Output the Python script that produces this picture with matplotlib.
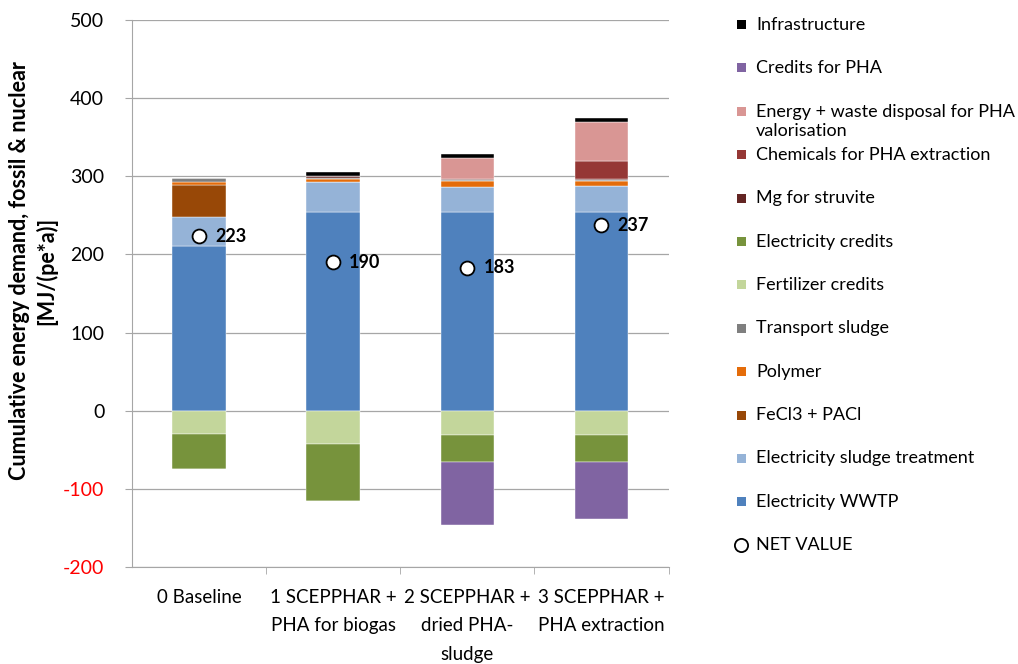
import matplotlib
matplotlib.use("Agg")
import matplotlib.pyplot as plt
import numpy as np
from matplotlib.patches import Rectangle
from matplotlib.lines import Line2D

plt.rcParams['font.family'] = ['Lato', 'DejaVu Sans']
plt.rcParams['axes.unicode_minus'] = False

scenarios = ["0 Baseline", "1 SCEPPHAR +\nPHA for biogas",
             "2 SCEPPHAR +\ndried PHA-\nsludge", "3 SCEPPHAR +\nPHA extraction"]

# positive contributions, stacked bottom to top
electricity_wwtp = [211, 254, 254, 254]
electricity_sludge = [37, 38, 32, 33]
fecl3_pacl = [41, 0, 0, 0]
polymer = [4, 5, 8, 7]
transport_sludge = [5, 1, 1, 1]
mg_struvite = [0, 2, 2, 1]
chemicals_pha = [0, 0, 0, 24]
energy_waste_pha = [0, 0, 26, 50]
infrastructure = [0, 6, 6, 5]

# credits, stacked downward from zero
fertilizer_credits = [-30, -43, -31, -31]
electricity_credits = [-45, -73, -35, -35]
credits_pha = [0, 0, -80, -72]

positive = [
    ("Electricity WWTP", electricity_wwtp, "#4F81BD"),
    ("Electricity sludge treatment", electricity_sludge, "#95B3D7"),
    ("FeCl3 + PACl", fecl3_pacl, "#984807"),
    ("Polymer", polymer, "#E46C0A"),
    ("Transport sludge", transport_sludge, "#7F7F7F"),
    ("Mg for struvite", mg_struvite, "#632523"),
    ("Chemicals for PHA extraction", chemicals_pha, "#953735"),
    ("Energy + waste disposal for PHA\nvalorisation", energy_waste_pha, "#D99694"),
    ("Infrastructure", infrastructure, "#000000"),
]
negative = [
    ("Fertilizer credits", fertilizer_credits, "#C3D69B"),
    ("Electricity credits", electricity_credits, "#77933C"),
    ("Credits for PHA", credits_pha, "#8064A2"),
]

W, H = 1018, 664
fig = plt.figure(figsize=(W / 100, H / 100), dpi=100)
ax = fig.add_axes([0.1297, 0.146, 0.527, 0.824])

x = np.arange(len(scenarios))
width = 0.40

bottom = np.zeros(len(scenarios))
for name, vals, color in positive:
    v = np.array(vals, dtype=float)
    ax.bar(x, v, width, bottom=bottom, color=color, edgecolor="white",
           linewidth=0.3, zorder=3)
    bottom += v
pos_total = bottom.copy()

bottom = np.zeros(len(scenarios))
for name, vals, color in negative:
    v = np.array(vals, dtype=float)
    ax.bar(x, v, width, bottom=bottom, color=color, edgecolor="white",
           linewidth=0.3, zorder=3)
    bottom += v
neg_total = bottom.copy()

net = pos_total + neg_total
ax.plot(x, net, linestyle="none", marker="o", markersize=10,
        markerfacecolor="white", markeredgecolor="black", markeredgewidth=1.3,
        zorder=5)
for xi, n in zip(x, net):
    ax.text(xi + 0.12, n, f"{n:.0f}", fontsize=13, fontweight="bold",
            va="center", ha="left", zorder=6)

ax.set_xlim(-0.5, 3.5)
ax.set_ylim(-200, 500)
ax.set_yticks(np.arange(-200, 501, 100))
ax.yaxis.grid(True, color="#A6A6A6", linewidth=0.9, zorder=0)
ax.set_axisbelow(True)

for s in ["top", "right"]:
    ax.spines[s].set_visible(False)
ax.spines["left"].set_color("#A6A6A6")
ax.spines["bottom"].set_color("#A6A6A6")

ax.set_xticks(x)
ax.set_xticklabels(scenarios, fontsize=13.5, linespacing=1.8)
ax.tick_params(axis="x", which="major", length=0, pad=16)
ax.set_xticks(np.arange(0.5, 4.0, 1.0), minor=True)
ax.tick_params(axis="x", which="minor", length=5, color="#A6A6A6")
ax.tick_params(axis="y", length=5, color="#A6A6A6", labelsize=14, pad=15)
for lab, val in zip(ax.get_yticklabels(), np.arange(-200, 501, 100)):
    if val < 0:
        lab.set_color("red")

ax.set_ylabel("Cumulative energy demand, fossil & nuclear\n[MJ/(pe*a)]",
              fontsize=15.5, fontweight="bold", linespacing=1.25)
ax.yaxis.label.set_va("center")
ax.yaxis.set_label_coords((33 - 132) / 536.5, 0.541)

# legend entries on a fixed row pitch, top to bottom
legend_order = ["Infrastructure", "Credits for PHA",
                "Energy + waste disposal for PHA\nvalorisation",
                "Chemicals for PHA extraction", "Mg for struvite",
                "Electricity credits", "Fertilizer credits", "Transport sludge",
                "Polymer", "FeCl3 + PACl", "Electricity sludge treatment",
                "Electricity WWTP"]
colors = {name: c for name, _, c in positive + negative}
row0, pitch = 24.5, 43.4
mx, tx, msz = 741, 756, 9
for i, name in enumerate(legend_order):
    yc = row0 + i * pitch
    fig.patches.append(Rectangle(((mx - msz / 2) / W, 1 - (yc + msz / 2) / H),
                                 msz / W, msz / H, transform=fig.transFigure,
                                 facecolor=colors[name], edgecolor="none"))
    if "\n" in name:
        fig.text(tx / W, 1 - (yc - 7.5) / H, name, fontsize=13, va="top",
                 ha="left", linespacing=1.25)
    else:
        fig.text(tx / W, 1 - yc / H, name, fontsize=13, va="center",
                 ha="left")
yc = row0 + len(legend_order) * pitch
fig.add_artist(Line2D([mx / W], [1 - yc / H], transform=fig.transFigure,
                      linestyle="none", marker="o", markersize=9.5,
                      markerfacecolor="white", markeredgecolor="black",
                      markeredgewidth=1.3))
fig.text(tx / W, 1 - yc / H, "NET VALUE", fontsize=13, va="center", ha="left")

fig.savefig("out.png", dpi=100)
